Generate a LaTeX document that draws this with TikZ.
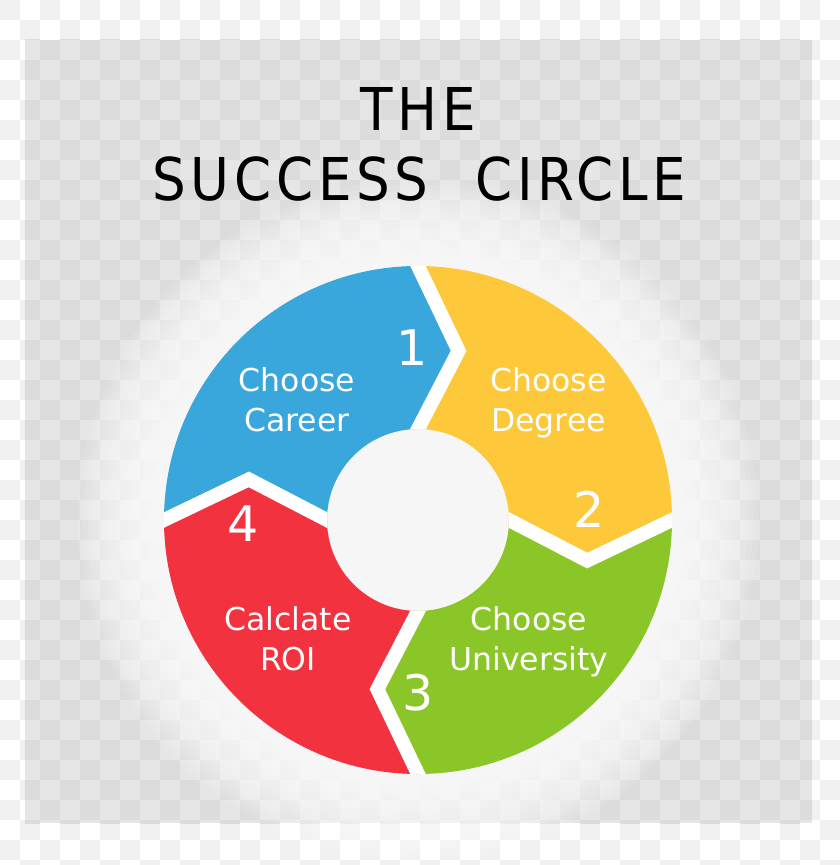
\documentclass[tikz,border=0pt]{standalone}
\usepackage{fontspec}
\setmainfont{DejaVu Sans}
\newfontfamily\titlefont[FakeStretch=0.9, LetterSpace=8]{DejaVu Sans}
\usetikzlibrary{calc}
\definecolor{ringBlue}{HTML}{39A7DB}
\definecolor{ringYellow}{HTML}{FDC83A}
\definecolor{ringGreen}{HTML}{8BC628}
\definecolor{ringRed}{HTML}{F2323F}
\definecolor{tileLight}{HTML}{F1F1F1}
\definecolor{panelBg}{HTML}{E6E6E6}
\definecolor{panelTile}{HTML}{DCDCDC}
\tikzset{
  steplabel/.style={text=white, align=center, inner sep=0pt,
    font=\fontsize{31.5}{39.6}\selectfont},
  stepnum/.style={text=white, inner sep=0pt, font=\fontsize{49}{49}\selectfont},
  titletext/.style={inner sep=0pt, font=\titlefont\fontsize{59}{59}\selectfont},
  gapline/.style={white, line width=14pt, line join=miter, miter limit=10}
}

\begin{document}
\begin{tikzpicture}[x=1pt, y=1pt]
    \useasboundingbox (-418,-345) rectangle (422,520);
    \fill[white] (-418,-345) rectangle (422,520);
    \foreach \i in {0,2,...,40}
      \foreach \j in {0,2,...,42}
        {\fill[tileLight] (20*\i-418,520-20*\j) rectangle ++(20,-20);
         \fill[tileLight] (20*\i-398,500-20*\j) rectangle ++(20,-20);}
    \fill[panelBg] (-393,480) rectangle (394,-303);
    \begin{scope}
      \clip (-393,480) rectangle (394,-303);
      \foreach \i in {0,2,...,40}
        \foreach \j in {0,2,...,42}
          {\fill[panelTile] (20*\i-418,520-20*\j) rectangle ++(20,-20);
           \fill[panelTile] (20*\i-398,500-20*\j) rectangle ++(20,-20);}
    \end{scope}
    \foreach \r in {340,335,...,255}
      \fill[white, opacity=0.11] (0,0) circle (\r);
    \foreach \a/\c in {180/ringBlue, 90/ringYellow, 0/ringGreen, -90/ringRed}
      \fill[\c] (\a:254) arc[start angle=\a, end angle=\a-90, radius=254]
        -- ({\a-103.5}:174) -- ({\a-90}:91)
        arc[start angle=\a-90, end angle=\a, radius=91]
        -- ({\a-13.5}:174) -- cycle;
    \begin{scope}[even odd rule]
      \clip (0,0) circle (254) (0,0) circle (91);
      \foreach \a in {180,90,0,-90}
        \draw[gapline] ($({\a-13.5}:174)!1.2!(\a:254)$) -- ({\a-13.5}:174)
          -- ($({\a-13.5}:174)!1.2!(\a:91)$);
    \end{scope}
    \node[titletext] (titleTop) at (0,411.5) {THE};
    \node[titletext] (titleBottom) at (1.5,341) {SUCCESS\hspace{0.8em}CIRCLE};
    \node[steplabel] (career) at (-121,120) {Choose\\Career};
    \node[steplabel] (degree) at (130.5,117) {Choose\\Degree};
    \node[steplabel] (university) at (111,-122) {Choose\\University};
    \node[steplabel] (roi) at (-130,-118.5) {Calclate\\ROI};
    \foreach \n/\x/\y in {1/-5.5/172, 2/171/11, 3/0.5/-173, 4/-175/-4}
      \node[stepnum] (num\n) at (\x,\y) {\n};
\end{tikzpicture}
\end{document}
